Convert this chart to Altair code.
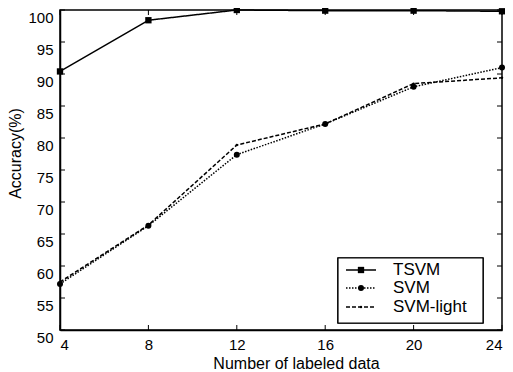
import altair as alt
import pandas as pd

# ---- data ----
x_vals = [4, 8, 12, 16, 20, 24]
tsvm = [90.4, 98.4, 100.0, 99.9, 99.9, 99.8]
svm = [57.2, 66.3, 77.4, 82.2, 88.0, 91.0]
svm_light = [57.5, 66.4, 78.9, 82.2, 88.5, 89.4]
series_names = ["TSVM", "SVM", "SVM-light"]
x_ticks = [4, 8, 12, 16, 20, 24]
y_ticks = [50, 55, 60, 65, 70, 75, 80, 85, 90, 95, 100]

rows = []
for name, vals in zip(series_names, [tsvm, svm, svm_light]):
    for xv, yv in zip(x_vals, vals):
        rows.append({"series": name, "n": xv, "acc": yv})
df = pd.DataFrame(rows)

W, H = 442, 320
FONT = "Liberation Sans"

xscale = alt.Scale(domain=[4, 24], nice=False, zero=False)
yscale = alt.Scale(domain=[50, 100], nice=False, zero=False)
xaxis = alt.Axis(values=x_ticks, title="Number of labeled data", titleX=236, titleAlign="center")
yaxis = alt.Axis(values=y_ticks, title="Accuracy(%)", labelBaseline="top", titleY=143, titleAlign="center")

dash_map = {"TSVM": [1, 0], "SVM": [1.5, 1.5], "SVM-light": [4, 2]}

layers = []
for i, name in enumerate(series_names):
    sub = df[df["series"] == name]
    base = alt.Chart(sub)
    enc = dict(
        x=alt.X("n:Q", scale=xscale, axis=xaxis),
        y=alt.Y("acc:Q", scale=yscale, axis=yaxis),
    )
    line = base.mark_line(color="black", strokeWidth=1.5, strokeDash=dash_map[name]).encode(**enc)
    layers.append(line)
    if name == "TSVM":
        layers.append(base.mark_point(shape="square", filled=True, color="black", size=40, opacity=1).encode(**enc))
    elif name == "SVM":
        layers.append(base.mark_point(shape="circle", filled=True, color="black", size=36, opacity=1).encode(**enc))
    else:
        layers.append(base.mark_point(shape="circle", filled=True, color="black", size=6, opacity=1).encode(**enc))

# inward ticks
xt = alt.Chart(pd.DataFrame({"n": x_ticks}))
yt = alt.Chart(pd.DataFrame({"acc": y_ticks}))
tick_style = dict(color="black", strokeWidth=1)
layers.append(xt.mark_rule(**tick_style).encode(x=alt.X("n:Q", scale=xscale, axis=xaxis), y=alt.value(H), y2=alt.value(H - 5)))
layers.append(xt.mark_rule(**tick_style).encode(x=alt.X("n:Q", scale=xscale, axis=xaxis), y=alt.value(0), y2=alt.value(5)))
layers.append(yt.mark_rule(**tick_style).encode(y=alt.Y("acc:Q", scale=yscale, axis=yaxis), x=alt.value(0), x2=alt.value(5)))
layers.append(yt.mark_rule(**tick_style).encode(y=alt.Y("acc:Q", scale=yscale, axis=yaxis), x=alt.value(W - 5), x2=alt.value(W)))

# legend box
lg = alt.Chart(pd.DataFrame({"s": series_names}))
layers.append(lg.mark_rect(fill="white", stroke="black", strokeWidth=1.2).encode(
    x=alt.value(278), x2=alt.value(423), y=alt.value(248), y2=alt.value(313)))
ys = [260, 278, 297]
for name, yy in zip(series_names, ys):
    one = alt.Chart(pd.DataFrame({"s": [name]}))
    layers.append(one.mark_rule(color="black", strokeWidth=1.5, strokeDash=dash_map[name]).encode(
        x=alt.value(286), x2=alt.value(316), y=alt.value(yy)))
    if name == "TSVM":
        layers.append(one.mark_point(shape="square", filled=True, color="black", size=40, opacity=1).encode(
            x=alt.value(301), y=alt.value(yy)))
    elif name == "SVM":
        layers.append(one.mark_point(shape="circle", filled=True, color="black", size=36, opacity=1).encode(
            x=alt.value(301), y=alt.value(yy)))
    else:
        layers.append(one.mark_point(shape="circle", filled=True, color="black", size=6, opacity=1).encode(
            x=alt.value(301), y=alt.value(yy)))
    layers.append(one.mark_text(align="left", baseline="middle", font=FONT, fontSize=17, color="black").encode(
        x=alt.value(333), y=alt.value(yy), text="s:N"))

chart = alt.layer(*layers).properties(
    width=W, height=H,
    autosize=alt.AutoSizeParams(type="none"),
    padding={"left": 52, "top": 2, "right": 3, "bottom": 40},
).configure_view(
    stroke="black", strokeWidth=1.5
).configure_axis(
    tickSize=0, labelFontSize=15, titleFontSize=16, labelFont=FONT, titleFont=FONT,
    titleFontWeight="normal", labelColor="black", titleColor="black",
    domainColor="black", domainWidth=1.5, grid=False, labelPadding=7,
).configure_axisY(titlePadding=4).configure_axisX(titlePadding=3)

chart.save("out.html", embed_options={"renderer": "svg", "actions": False})
